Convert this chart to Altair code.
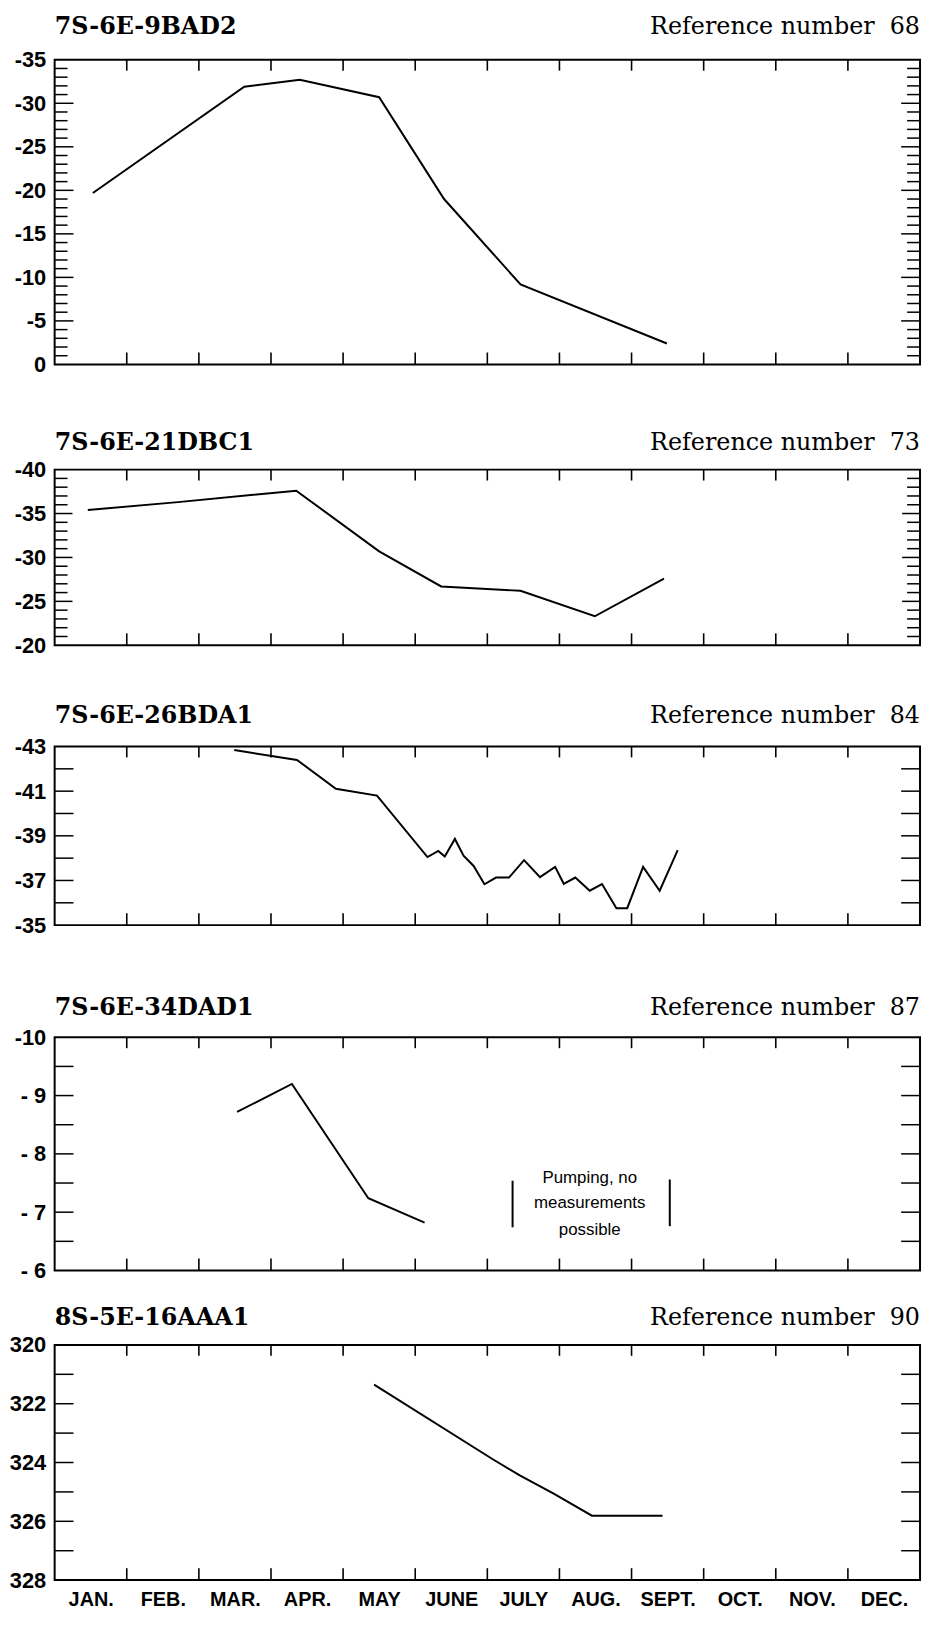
import altair as alt
import pandas as pd

MONTHS = ["JAN.", "FEB.", "MAR.", "APR.", "MAY", "JUNE", "JULY", "AUG.", "SEPT.", "OCT.", "NOV.", "DEC."]
MONTH_TICKS = list(range(1, 12))
MONTH_CENTERS = [i + 0.5 for i in range(12)]

# Panel 1: 7S-6E-9BAD2
p1_x = [0.53, 2.63, 3.40, 4.50, 5.40, 6.46, 8.49]
p1_y = [-19.7, -31.9, -32.7, -30.7, -19.0, -9.2, -2.4]

# Panel 2: 7S-6E-21DBC1
p2_x = [0.46, 1.71, 3.35, 4.50, 5.36, 6.46, 7.49, 8.45]
p2_y = [-35.4, -36.3, -37.6, -30.7, -26.7, -26.2, -23.3, -27.6]

# Panel 3: 7S-6E-26BDA1
p3_x = [2.49, 3.36, 3.90, 4.47, 5.17, 5.32, 5.41, 5.55, 5.67, 5.81, 5.96, 6.12, 6.30,
        6.51, 6.73, 6.94, 7.06, 7.22, 7.42, 7.59, 7.79, 7.94, 8.16, 8.39, 8.64]
p3_y = [-42.84, -42.40, -41.11, -40.80, -38.05, -38.32, -38.07, -38.86, -38.11, -37.65,
        -36.83, -37.13, -37.13, -37.91, -37.15, -37.61, -36.85, -37.13, -36.54, -36.84,
        -35.76, -35.76, -37.61, -36.54, -38.36]

# Panel 4: 7S-6E-34DAD1
p4_x = [2.53, 3.29, 4.35, 5.13]
p4_y = [-8.72, -9.20, -7.24, -6.82]
p4_note_lines = ["Pumping, no", "measurements", "possible"]
p4_note_x = [7.42, 7.42, 7.42]
p4_note_y = [-7.59, -7.15, -6.70]
p4_bar_x = [6.35, 8.53]
p4_bar_top = [-7.54, -7.56]
p4_bar_bottom = [-6.74, -6.76]

# Panel 5: 8S-5E-16AAA1
p5_x = [4.43, 6.07, 6.45, 6.92, 7.45, 8.43]
p5_y = [321.35, 323.88, 324.44, 325.06, 325.81, 325.81]

SANS = "Liberation Sans"
SERIF = "DejaVu Serif"
W = 872
NEG_EXPR = "datum.value < 0 ? '-' + abs(datum.value) : '' + datum.value"


def frange(a, b, step):
    out = []
    v = a
    while v <= b + 1e-9:
        out.append(round(v, 3))
        v += step
    return out


def panel(name, ref, xs, ys, dom, labels, minor, major, minor_len, major_len,
          height, title_y, label_expr=NEG_EXPR, months=False, extra=None):
    xsc = alt.Scale(domain=[0, 12], nice=False, zero=False)
    ysc = alt.Scale(domain=dom, reverse=True, nice=False, zero=False)
    yax = dict(values=labels, title=None, domain=False, ticks=False, grid=False,
               labelPadding=9, labelFont=SANS, labelFontSize=22, labelFontWeight="bold",
               labelColor="black", labelOverlap=False, labelFlush=False, labelExpr=label_expr)
    Y = alt.Y("y:Q", scale=ysc, axis=alt.Axis(**yax))
    if months:
        xax = alt.Axis(values=MONTH_CENTERS, title=None, domain=False, ticks=False, grid=False,
                       labelPadding=10, labelFont=SANS, labelFontSize=20, labelFontWeight="bold",
                       labelColor="black", labelOverlap=False, labelFlush=False,
                       labelExpr="%s[floor(datum.value)]" % str(MONTHS))
        X = alt.X("x:Q", scale=xsc, axis=xax)
    else:
        X = alt.X("x:Q", scale=xsc, axis=None)

    line = alt.Chart(pd.DataFrame({"x": xs, "y": ys})).mark_line(
        color="black", strokeWidth=2).encode(x=X, y=Y)

    mt = pd.DataFrame({"x": MONTH_TICKS})
    top_t = alt.Chart(mt).mark_rule(color="black", strokeWidth=1.6).encode(
        x=X, y=alt.value(0), y2=alt.value(11))
    bot_t = alt.Chart(mt).mark_rule(color="black", strokeWidth=1.6).encode(
        x=X, y=alt.value(height), y2=alt.value(height - 12))

    layers = [line, top_t, bot_t]
    for vals, ln in ((minor, minor_len), (major, major_len)):
        if not vals:
            continue
        d = pd.DataFrame({"y": vals})
        layers.append(alt.Chart(d).mark_rule(color="black", strokeWidth=1.5).encode(
            y=Y, x=alt.value(0), x2=alt.value(ln)))
        layers.append(alt.Chart(d).mark_rule(color="black", strokeWidth=1.5).encode(
            y=Y, x=alt.value(W), x2=alt.value(W - ln)))

    t1 = alt.Chart(pd.DataFrame({"t": [name]})).mark_text(
        align="left", baseline="alphabetic", font=SERIF, fontWeight="bold",
        fontSize=24, color="black").encode(text="t:N", x=alt.value(0), y=alt.value(title_y))
    t2 = alt.Chart(pd.DataFrame({"t": [ref]})).mark_text(
        align="right", baseline="alphabetic", font=SERIF, fontWeight="normal",
        fontSize=24, color="black").encode(text="t:N", x=alt.value(W), y=alt.value(title_y))
    layers += [t1, t2]
    if extra:
        layers += extra(X, Y)
    return alt.layer(*layers).properties(width=W, height=height)


def p4_extra(X, Y):
    bars = alt.Chart(pd.DataFrame({"x": p4_bar_x, "y": p4_bar_top, "y2": p4_bar_bottom})).mark_rule(
        color="black", strokeWidth=2).encode(x=X, y=Y, y2="y2:Q")
    note = alt.Chart(pd.DataFrame({"x": p4_note_x, "y": p4_note_y, "t": p4_note_lines})).mark_text(
        font=SANS, fontSize=17, color="black", align="center", baseline="middle").encode(
        x=X, y=Y, text="t:N")
    return [bars, note]


def spacer(h):
    return alt.Chart(pd.DataFrame({"s": [0]})).mark_point(opacity=0, size=1).encode(
        x=alt.value(0), y=alt.value(0)).properties(
        width=W, height=h, view=alt.ViewBackground(stroke="transparent"))


ref_sp = "Reference number\u00a0 "

c1 = panel("7S-6E-9BAD2", ref_sp + "68", p1_x, p1_y, [-35, 0],
           [-35, -30, -25, -20, -15, -10, -5, 0],
           [v for v in frange(-34, -1, 1) if v % 5 != 0], frange(-30, -5, 5), 13, 19, 307, -26)
c2 = panel("7S-6E-21DBC1", ref_sp + "73", p2_x, p2_y, [-40, -20],
           [-40, -35, -30, -25, -20],
           [v for v in frange(-39, -21, 1) if v % 5 != 0], [-35, -30, -25], 13, 18, 177, -20)
c3 = panel("7S-6E-26BDA1", ref_sp + "84", p3_x, p3_y, [-43, -35],
           [-43, -41, -39, -37, -35],
           [], frange(-42, -36, 1), 19, 19, 180, -24)
c4 = panel("7S-6E-34DAD1", ref_sp + "87", p4_x, p4_y, [-10, -6],
           [-10, -9, -8, -7, -6],
           [], frange(-9.5, -6.5, 0.5), 19, 19, 235, -22,
           label_expr="datum.value <= -10 ? '-10' : '- ' + abs(datum.value)",
           extra=p4_extra)
c5 = panel("8S-5E-16AAA1", ref_sp + "90", p5_x, p5_y, [320, 328],
           [320, 322, 324, 326, 328],
           [], frange(321, 327, 1), 19, 19, 237, -20, months=True)

chart = alt.vconcat(c1, spacer(106), c2, spacer(102), c3, spacer(113), c4, spacer(75), c5,
                    spacing=0, bounds="flush").configure_view(
    stroke="black", strokeWidth=2).properties(
    padding={"left": 0, "top": 0, "right": 0, "bottom": -2}, background="white")

chart.save("out.html", embed_options={"renderer": "svg", "actions": False})
